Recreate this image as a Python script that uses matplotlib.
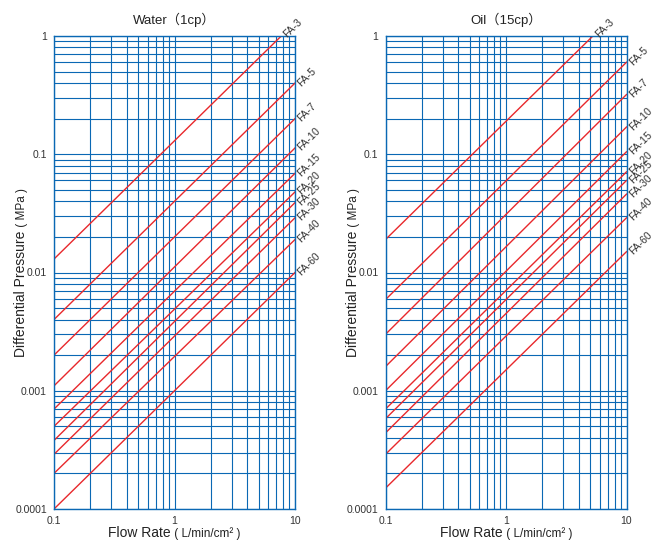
import matplotlib
matplotlib.use("Agg")
import matplotlib.pyplot as plt
import numpy as np

plt.rcParams['font.family'] = ['Liberation Sans', 'Noto Sans CJK JP']

models = ["FA-3", "FA-5", "FA-7", "FA-10", "FA-15", "FA-20", "FA-25", "FA-30", "FA-40", "FA-60"]
flow_ends = [0.1, 10]
# differential pressure (MPa) read at 0.1 and at 10 L/min/cm2
water_start = [0.013, 0.004, 0.002, 0.0011, 0.0007, 0.0005, 0.00038, 0.00029, 0.0002, 0.0001]
water_end = [1.3, 0.4, 0.2, 0.113, 0.069, 0.048, 0.039, 0.029, 0.019, 0.01]
oil_start = [0.019, 0.0059, 0.003, 0.0016, 0.001, 0.0007, 0.00058, 0.00044, 0.00029, 0.00015]
oil_end = [1.9, 0.6, 0.32, 0.17, 0.105, 0.071, 0.06, 0.046, 0.029, 0.015]

y_ticks = [0.0001, 0.001, 0.01, 0.1, 1]
y_labels = ["0.0001", "0.001", "0.01", "0.1", "1"]
x_ticks = [0.1, 1, 10]
x_labels = ["0.1", "1", "10"]

BLUE = "#0a68b4"
RED = "#e8282c"
TXT = "#333333"
SMALL = 8.5

fig = plt.figure(figsize=(6.69, 5.4), dpi=100)
ax1 = fig.add_axes([54 / 669, 31 / 540, 241 / 669, 473 / 540])
ax2 = fig.add_axes([385.5 / 669, 31 / 540, 241 / 669, 473 / 540])
renderer = fig.canvas.get_renderer()


def text_width(s, size):
    t = fig.text(0, 0, s, size=size, family="Liberation Sans")
    w = t.get_window_extent(renderer).width
    t.remove()
    return w


def two_part_label(ax, big, small, xy, rotation):
    wb = text_width(big, 10)
    ws = text_width(small, SMALL)
    shift = (wb - ws) / 2
    off = (shift, 0) if rotation == 0 else (0, shift)
    for s, size, ha in [(big, 10, "right"), (small, SMALL, "left")]:
        ax.annotate(s, xy=xy, xycoords="axes fraction", xytext=off,
                    textcoords="offset pixels", size=size, ha=ha, va="baseline",
                    rotation=rotation, rotation_mode="anchor", color="#222222",
                    family="Liberation Sans", annotation_clip=False)


def draw_panel(ax, title, starts, ends):
    ax.set_xscale("log")
    ax.set_yscale("log")
    ax.set_xlim(0.1, 10)
    ax.set_ylim(0.0001, 1)

    minor_x = [m * d for d in [0.1, 1] for m in range(2, 10)]
    minor_y = [m * d for d in [0.0001, 0.001, 0.01, 0.1] for m in range(2, 10)]
    ax.set_xticks(x_ticks, x_labels)
    ax.set_yticks(y_ticks, y_labels)
    ax.set_xticks(minor_x, minor=True)
    ax.set_yticks(minor_y, minor=True)
    ax.xaxis.set_minor_formatter(plt.NullFormatter())
    ax.yaxis.set_minor_formatter(plt.NullFormatter())
    ax.tick_params(which="both", length=0, labelsize=7.5, labelcolor=TXT, pad=5)
    ax.grid(True, which="both", color=BLUE, linewidth=0.8)
    ax.set_axisbelow(True)
    for sp in ax.spines.values():
        sp.set_color(BLUE)
        sp.set_linewidth(1.0)

    for name, a, b in zip(models, starts, ends):
        ax.plot(flow_ends, [a, b], color=RED, linewidth=1.0)
        if b > 1:
            # where the line leaves through the top edge
            lx = 10 ** (np.log10(0.1) + (0 - np.log10(a)) / (np.log10(b) - np.log10(a)) * 2)
            ax.annotate(name, xy=(lx, 1), xytext=(3, 0), textcoords="offset points",
                        rotation=45, rotation_mode="anchor", ha="left", va="center",
                        size=7.5, color=TXT, annotation_clip=False)
        else:
            ax.annotate(name, xy=(10, b), xytext=(3, -1), textcoords="offset points",
                        rotation=45, rotation_mode="anchor", ha="left", va="center",
                        size=7.5, color=TXT, annotation_clip=False)

    ax.text(0.5, 1.0254, title, transform=ax.transAxes, ha="center", va="baseline",
            size=9.5, color="#222222")
    two_part_label(ax, "Flow Rate", " ( L/min/cm² )", (0.5, -0.059), 0)
    two_part_label(ax, "Differential Pressure", " ( MPa )", (-0.12, 0.5), 90)


draw_panel(ax1, "Water（1cp）", water_start, water_end)
draw_panel(ax2, "Oil（15cp）", oil_start, oil_end)

fig.savefig("out.png", dpi=100)
